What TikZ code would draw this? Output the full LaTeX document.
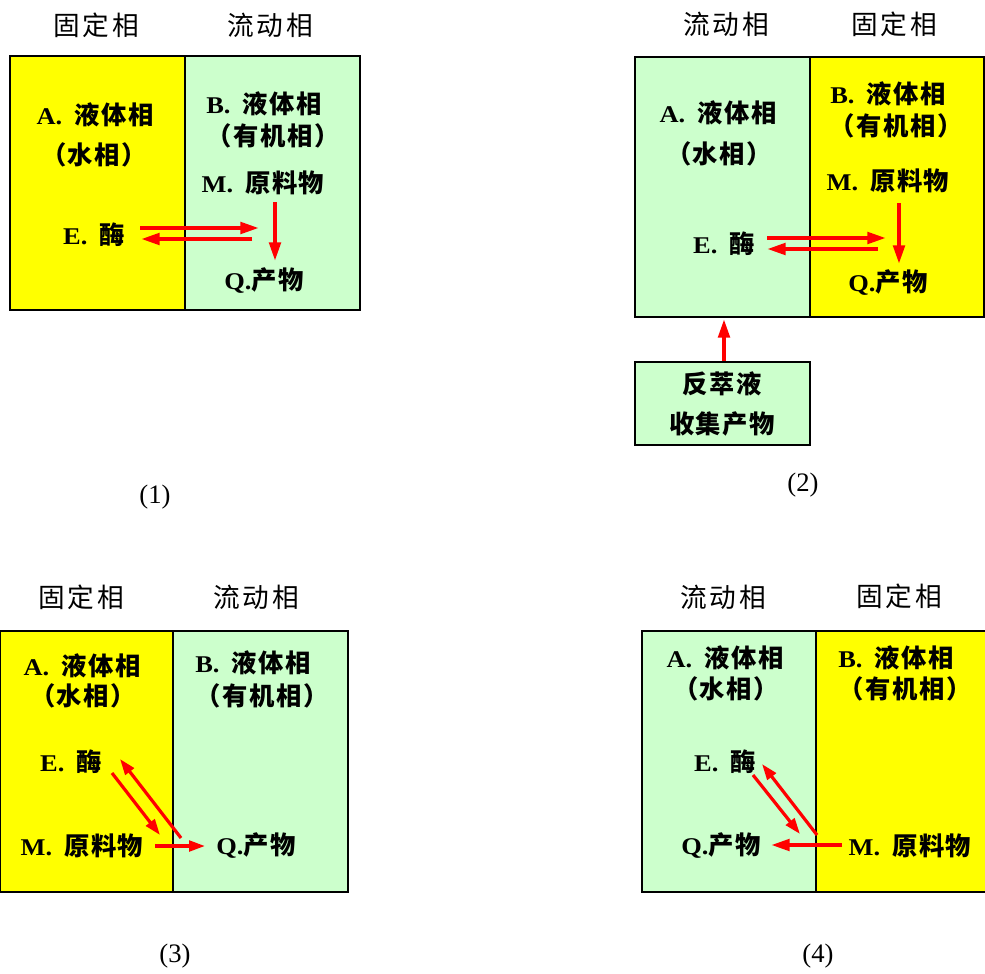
\documentclass[tikz,border=0pt]{standalone}
\usepackage{fontspec}
\setmainfont{Liberation Serif}
\newfontfamily\latb[FakeStretch=1.1]{Liberation Serif}
\newfontfamily\cjkh[LetterSpace=10]{Noto Sans CJK SC}
\newfontfamily\cjkl[LetterSpace=6]{Noto Sans CJK SC}
\usetikzlibrary{arrows.meta}
\definecolor{ylw}{RGB}{255,255,0}
\definecolor{grn}{RGB}{204,255,204}
\definecolor{arr}{RGB}{255,0,0}
\tikzset{
  head/.style={font=\cjkh\fontsize{20}{24}\selectfont, inner sep=0pt},
  lbl/.style={font=\bfseries\fontsize{19}{22}\selectfont, inner sep=0pt},
  num/.style={font=\fontsize{20}{24}\selectfont, inner sep=0pt},
  phase/.style={draw=black, line width=1.5pt},
  flow/.style={draw=arr, line width=3pt, -{Triangle[length=14pt,width=8.5pt]}},
  thinflow/.style={draw=arr, line width=2.4pt, -{Triangle[length=12pt,width=8pt]}},
}
\newcommand{\zh}[1]{{\cjkl\bfseries #1}}
\newcommand{\la}[1]{{\latb\bfseries\fontsize{18}{21}\selectfont #1}}
\newcommand{\gap}{\hspace{9pt}}
\begin{document}
\begin{tikzpicture}[x=0.75pt,y=-0.75pt]
\useasboundingbox (0,0) rectangle (985,974);
% ---------- panel 1 ----------
\fill[ylw] (10,56) rectangle (185,310);
\fill[grn] (185,56) rectangle (360,310);
\draw[phase] (10,56) rectangle (360,310) (185,56) -- (185,310);
\node[head] (h1a) at (96,25) {固定相};
\node[head] (h1b) at (270,25) {流动相};
\node[lbl] (p1A) at (95,115) {\la{A.}\gap\zh{液体相}};
\node[lbl] (p1W) at (94,155) {\zh{（水相）}};
\node[lbl] (p1B) at (264,104) {\la{B.}\gap\zh{液体相}};
\node[lbl] (p1O) at (273,136) {\zh{（有机相）}};
\node[lbl] (p1M) at (263,183) {\la{M.}\gap\zh{原料物}};
\node[lbl] (p1E) at (94,235) {\la{E.}\gap\zh{酶}};
\node[lbl] (p1Q) at (264,281) {\la{Q.}\zh{产物}};
\coordinate (p1a1) at (140,228); \coordinate (p1a2) at (259,228);
\coordinate (p1b1) at (252,239); \coordinate (p1b2) at (141,239);
\coordinate (p1c1) at (275,202); \coordinate (p1c2) at (275,261);
\draw[flow] (p1a1) -- (p1a2);
\draw[flow] (p1b1) -- (p1b2);
\draw[flow] (p1c1) -- (p1c2);
\node[num] (n1) at (155,497) {(1)};
% ---------- panel 2 ----------
\fill[grn] (635,57) rectangle (810,317);
\fill[ylw] (810,57) rectangle (984,317);
\draw[phase] (635,57) rectangle (984,317) (810,57) -- (810,317);
\node[head] (h2a) at (726,24) {流动相};
\node[head] (h2b) at (894,24) {固定相};
\node[lbl] (p2A) at (718,113) {\la{A.}\gap\zh{液体相}};
\node[lbl] (p2W) at (719,154) {\zh{（水相）}};
\node[lbl] (p2B) at (888,94) {\la{B.}\gap\zh{液体相}};
\node[lbl] (p2O) at (896,126) {\zh{（有机相）}};
\node[lbl] (p2M) at (888,181) {\la{M.}\gap\zh{原料物}};
\node[lbl] (p2E) at (724,244) {\la{E.}\gap\zh{酶}};
\node[lbl] (p2Q) at (888,283) {\la{Q.}\zh{产物}};
\coordinate (p2a1) at (767,238); \coordinate (p2a2) at (886,238);
\coordinate (p2b1) at (878,249); \coordinate (p2b2) at (767,249);
\coordinate (p2c1) at (899,203); \coordinate (p2c2) at (899,264);
\draw[flow] (p2a1) -- (p2a2);
\draw[flow] (p2b1) -- (p2b2);
\draw[flow] (p2c1) -- (p2c2);
\node[draw=black, line width=1.5pt, fill=grn, minimum width=175*0.75pt, minimum height=83*0.75pt, inner sep=0pt] (p2box) at (722.5,403.5) {};
\node[lbl] (p2F) at (722,384) {\zh{反萃液}};
\node[lbl] (p2S) at (722,424) {\zh{收集产物}};
\coordinate (p2up) at (724,319);
\draw[flow] (p2box.north -| p2up) -- (p2up);
\node[num] (n2) at (803,485) {(2)};
% ---------- panel 3 ----------
\fill[ylw] (0,631) rectangle (173,892);
\fill[grn] (173,631) rectangle (348,892);
\draw[phase] (0,631) rectangle (348,892) (173,631) -- (173,892);
\node[head] (h3a) at (81,597) {固定相};
\node[head] (h3b) at (256,597) {流动相};
\node[lbl] (p3A) at (82,666) {\la{A.}\gap\zh{液体相}};
\node[lbl] (p3W) at (83,696) {\zh{（水相）}};
\node[lbl] (p3B) at (253,663) {\la{B.}\gap\zh{液体相}};
\node[lbl] (p3O) at (262,696) {\zh{（有机相）}};
\node[lbl] (p3E) at (71,762) {\la{E.}\gap\zh{酶}};
\node[lbl] (p3M) at (82,846) {\la{M.}\gap\zh{原料物}};
\node[lbl] (p3Q) at (256,846) {\la{Q.}\zh{产物}};
\coordinate (p3a1) at (112,773); \coordinate (p3a2) at (160,835);
\coordinate (p3b1) at (181,838); \coordinate (p3b2) at (120,759);
\coordinate (p3c1) at (155,846); \coordinate (p3c2) at (205,846);
\draw[thinflow] (p3a1) -- (p3a2);
\draw[thinflow] (p3b1) -- (p3b2);
\draw[thinflow] (p3c1) -- (p3c2);
\node[num] (n3) at (175,956) {(3)};
% ---------- panel 4 ----------
\fill[grn] (642,631) rectangle (816,892);
\fill[ylw] (816,631) rectangle (985,892);
\draw[phase] (642,631) rectangle (986,892) (816,631) -- (816,892);
\node[head] (h4a) at (723,597) {流动相};
\node[head] (h4b) at (899,596) {固定相};
\node[lbl] (p4A) at (725,658) {\la{A.}\gap\zh{液体相}};
\node[lbl] (p4W) at (726,689) {\zh{（水相）}};
\node[lbl] (p4B) at (896,658) {\la{B.}\gap\zh{液体相}};
\node[lbl] (p4O) at (905,689) {\zh{（有机相）}};
\node[lbl] (p4E) at (725,762) {\la{E.}\gap\zh{酶}};
\node[lbl] (p4Q) at (721,846) {\la{Q.}\zh{产物}};
\node[lbl] (p4M) at (910,846) {\la{M.}\gap\zh{原料物}};
\coordinate (p4a1) at (753,775); \coordinate (p4a2) at (800,834);
\coordinate (p4b1) at (817,835); \coordinate (p4b2) at (762,764);
\coordinate (p4c1) at (842,845); \coordinate (p4c2) at (771,845);
\draw[thinflow] (p4a1) -- (p4a2);
\draw[thinflow] (p4b1) -- (p4b2);
\draw[flow] (p4c1) -- (p4c2);
\node[num] (n4) at (818,956) {(4)};
\end{tikzpicture}
\end{document}
